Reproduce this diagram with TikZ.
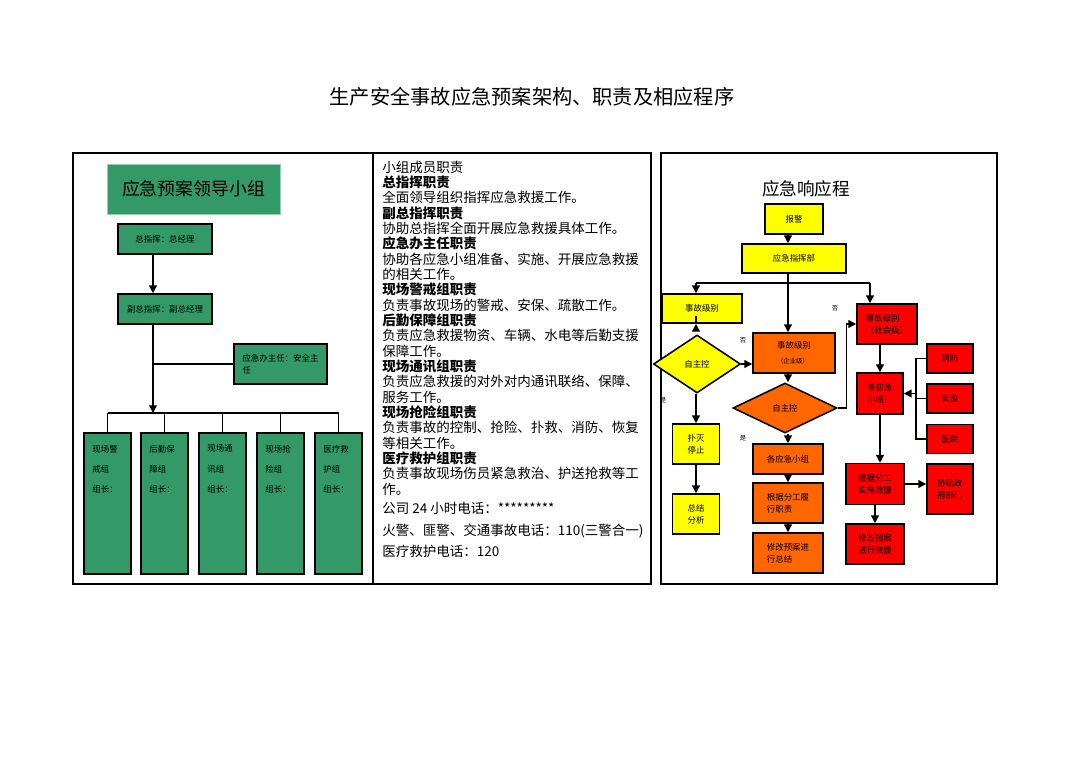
\documentclass[tikz,border=0pt]{standalone}
\usepackage{fontspec}
\setmainfont{Noto Sans CJK SC}
\usepackage{xcolor}
\usetikzlibrary{arrows.meta,positioning,shapes.geometric}

\definecolor{bgreen}{HTML}{339966}
\definecolor{byellow}{HTML}{FFFF00}
\definecolor{borange}{HTML}{FF6600}
\definecolor{bred}{HTML}{FF0000}

\newcommand{\smallcjk}{\fontsize{6}{8.5}\selectfont}

\begin{document}
\begin{tikzpicture}[x=0.025cm, y=-0.025cm,
    >={Triangle[length=5.5pt, width=5.5pt]},
    % ---- styles ----
    B/.style={draw=black, line width=1.1pt, fill=#1, font=\smallcjk,
              align=left, inner sep=2pt, text=black},
    GB/.style={B=bgreen, minimum width=2.35cm, minimum height=0.75cm},
    GG/.style={B=bgreen, line width=1.4pt, minimum width=1.175cm,
               minimum height=3.525cm},
    GT/.style={font=\fontsize{6}{14.5}\selectfont, align=left, inner sep=0pt},
    YB/.style={B=byellow},
    OB/.style={B=borange},
    RB/.style={B=bred},
    DM/.style={diamond, draw=black, line width=1.1pt, fill=#1, inner sep=0pt,
               font=\smallcjk},
    A/.style={->, line width=1pt},
    L/.style={line width=1pt},
    F/.style={line width=1.3pt},
    YN/.style={font=\fontsize{4.5}{5}\selectfont, inner sep=0pt},
]
\useasboundingbox (0,0) rectangle (1080,764);
\fill[white] (0,0) rectangle (1080,764);

% ===== Title =====
\node[font=\fontsize{14.4}{16}\selectfont] (title) at (532,97)
    {生产安全事故应急预案架构、职责及相应程序};

% ===== Frames =====
\draw[F] (73,153) rectangle (651,584);
\draw[F] (373,153) -- (373,584);
\draw[F] (661,153) rectangle (997,584);

% ===== Left: leading group =====
\node[fill=bgreen, draw=bgreen!50, line width=0.6pt,
      minimum width=4.325cm, minimum height=1.25cm,
      font=\fontsize{12.7}{15}\selectfont] (head) at (193.5,189) {应急预案领导小组};

\node[GB] (zzh) at (165,239) {总指挥：总经理};
\node[GB] (fzh) at (165,309) {副总指挥：副总经理};
\node[B=bgreen, minimum width=2.325cm, minimum height=1.0cm] (ban)
    at (280.5,364) {应急办主任：安全主\\任};

\node[GG] (g1) at (107.5,503.5) {};
\node[GG] (g2) at (164.5,503.5) {};
\node[GG] (g3) at (222.5,503.5) {};
\node[GG] (g4) at (280.5,503.5) {};
\node[GG] (g5) at (338.5,503.5) {};
\node[GT, below right=9pt and 6.5pt of g1.north west] {现场警\\戒组\\组长：};
\node[GT, below right=9pt and 6.5pt of g2.north west] {后勤保\\障组\\组长：};
\node[GT, below right=9pt and 6.5pt of g3.north west] {现场通\\讯组\\组长：};
\node[GT, below right=9pt and 6.5pt of g4.north west] {现场抢\\险组\\组长：};
\node[GT, below right=9pt and 6.5pt of g5.north west] {医疗救\\护组\\组长：};

% trunk and bus
\coordinate (lc) at (153,0);
\coordinate (lbus) at (153,413);
\draw[A] (zzh.south -| lc) -- (fzh.north -| lc);
\draw[A] (fzh.south -| lc) -- (lbus);
\draw[L] (ban.west -| lc) -- (ban.west);
\draw[L] (g1.north |- lbus) -- (g5.north |- lbus);
\foreach \i in {1,...,5}
    \draw[L] (g\i.north |- lbus) -- (g\i.north);

% ===== Middle: duties =====
\node[anchor=north west, align=left, inner sep=0pt,
      font=\fontsize{9.6}{10.9}\selectfont] (duty) at (382,160.5)
{小组成员职责\\
\textbf{总指挥职责}\\
全面领导组织指挥应急救援工作。\\
\textbf{副总指挥职责}\\
协助总指挥全面开展应急救援具体工作。\\
\textbf{应急办主任职责}\\
协助各应急小组准备、实施、开展应急救援\\
的相关工作。\\
\textbf{现场警戒组职责}\\
负责事故现场的警戒、安保、疏散工作。\\
\textbf{后勤保障组职责}\\
负责应急救援物资、车辆、水电等后勤支援\\
保障工作。\\
\textbf{现场通讯组职责}\\
负责应急救援的对外对内通讯联络、保障、\\
服务工作。\\
\textbf{现场抢险组职责}\\
负责事故的控制、抢险、扑救、消防、恢复\\
等相关工作。\\
\textbf{医疗救护组职责}\\
负责事故现场伤员紧急救治、护送抢救等工\\
作。\\[3pt]
公司 24 小时电话：*********\\[4.5pt]
火警、匪警、交通事故电话：110(三警合一)\\[4.5pt]
医疗救护电话：120};

% ===== Right: response procedure =====
\node[font=\fontsize{12.5}{15}\selectfont] (rtitle) at (806,189) {应急响应程};

\node[YB, minimum width=1.45cm, minimum height=0.75cm]  (bj)  at (794,219)   {报警};
\node[YB, minimum width=2.6cm,  minimum height=0.725cm] (zhb) at (794,258.5) {应急指挥部};
\node[YB, minimum width=2.0cm,  minimum height=0.725cm] (yj1) at (702,308.5) {事故级别};
\node[DM=byellow, minimum width=2.175cm, minimum height=1.45cm] (yd1) at (697,364) {自主控};
\node[YB, minimum width=1.175cm, minimum height=1.0cm] (pm) at (696,444) {扑灭\\停止};
\node[YB, minimum width=1.175cm, minimum height=1.0cm] (zj) at (696,514) {总结\\分析};

\node[OB, minimum width=2.05cm, minimum height=1.0cm] (ob1) at (794,353)
    {事故级别\\[2pt]{\fontsize{4.5}{5}\selectfont （企业级）}};
\node[DM=borange, minimum width=2.6cm, minimum height=1.25cm] (od) at (785,408) {自主控};
\node[OB, minimum width=1.75cm, minimum height=0.75cm] (oz1) at (788,459) {各应急小组};
\node[OB, minimum width=1.75cm, minimum height=1.0cm]  (oz2) at (788,503) {根据分工履\\行职责};
\node[OB, minimum width=1.75cm, minimum height=1.0cm]  (oz3) at (788,553) {修改预案进\\行总结};

\node[RB, minimum width=1.5cm,  minimum height=1.0cm]   (r1)  at (887,324)   {事故级别\\（社会级）};
\node[RB, minimum width=1.15cm, minimum height=1.025cm] (r2)  at (880,393.5) {各应急\\小组};
\node[RB, minimum width=1.15cm, minimum height=0.725cm] (rx1) at (950,358.5) {消防};
\node[RB, minimum width=1.15cm, minimum height=0.725cm] (rx2) at (950,398.5) {安监};
\node[RB, minimum width=1.15cm, minimum height=0.725cm] (rx3) at (950,439)   {医院};
\node[RB, minimum width=1.45cm, minimum height=1.025cm] (r3)  at (875,484)   {根据分工\\实施救援};
\node[RB, minimum width=1.15cm, minimum height=1.25cm]  (r4)  at (950,489)   {协助政\\府部门};
\node[RB, minimum width=1.45cm, minimum height=1.0cm]   (r5)  at (875,544)   {修改预案\\进行救援};

% yes / no marks
\node[YN] (y1) at (663,400) {是};
\node[YN] (n1) at (743,340) {否};
\node[YN] (n2) at (835,308) {否};
\node[YN] (y2) at (743,438) {是};

% connectors
\coordinate (rc) at (788,0);
\coordinate (busL) at (696,283);
\coordinate (busR) at (870,283);
\coordinate (vx) at (916,0);
\draw[A] (bj.south -| rc) -- (zhb.north -| rc);
\draw[A] (zhb.south -| rc) -- (ob1.north -| rc);
\draw[L] (busL) -- (busR);
\draw[A] (busL) -- (yj1.north -| busL);
\draw[A] (busR) -- (r1.north -| busR);
\draw[A] (yj1.south -| busL) -- (yj1.south -| busL |- yd1.north);
\draw[A] (yd1.east) -- (yd1.east -| ob1.west);
\draw[A] (yd1.south -| pm.north) -- (pm.north);
\draw[A] (pm.south) -- (zj.north);
\draw[A] (ob1.south -| rc) -- (od.north -| rc);
\draw[A] (od.south -| rc) -- (oz1.north -| rc);
\draw[A] (oz1.south) -- (oz2.north);
\draw[A] (oz2.south) -- (oz3.north);
\draw[A] (od.east) -- ++(9,0) |- (r1.west);
\draw[A] (r1.south -| r2.north) -- (r2.north);
\draw[L] (rx1.west) -| (vx |- rx3.west) -- (rx3.west);
\draw[L] (rx2.west) -- (rx2.west -| vx);
\draw[A] (r2.east -| vx) -- (r2.east);
\draw[A] (r2.south) -- (r2.south |- r3.north);
\draw[A] (r3.east) -- (r3.east -| r4.west);
\draw[A] (r3.south) -- (r5.north);

\end{tikzpicture}
\end{document}
